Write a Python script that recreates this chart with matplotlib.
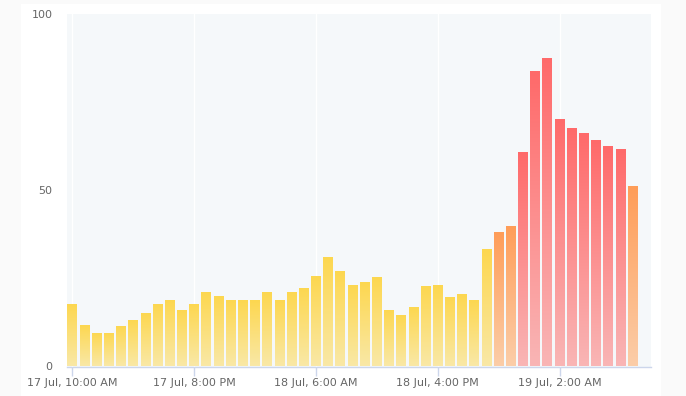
import numpy as np
import matplotlib
matplotlib.use("Agg")
import matplotlib.pyplot as plt
from matplotlib.patches import Rectangle
from matplotlib.colors import to_rgb

# hours since 17 Jul 10:00 AM
values = [17.6, 11.9, 9.4, 9.4, 11.4, 13.1, 15.1, 17.6, 19.0, 15.9,
          17.6, 21.0, 19.9, 19.0, 19.0, 19.0, 21.0, 19.0, 21.0, 22.4,
          25.6, 31.0, 27.0, 23.0, 24.1, 25.3, 15.9, 14.5, 17.0, 22.7,
          23.0, 19.6, 20.5, 19.0, 33.2, 38.1, 39.8, 60.8, 83.8, 87.5,
          70.2, 67.6, 66.2, 64.2, 62.5, 61.6, 51.1]
hours = list(range(len(values)))
tick_hours = [0, 10, 20, 30, 40]
tick_labels = ["17 Jul, 10:00 AM", "17 Jul, 8:00 PM", "18 Jul, 6:00 AM",
               "18 Jul, 4:00 PM", "19 Jul, 2:00 AM"]
y_ticks = [0, 50, 100]

palettes = {
    "yellow": ("#FDD74F", "#F9E8A6"),
    "orange": ("#FF9D58", "#FBCDA8"),
    "red": ("#FF6A6A", "#F9B5B5"),
}

def pal(v):
    if v < 35:
        return palettes["yellow"]
    if v < 55:
        return palettes["orange"]
    return palettes["red"]

W, H = 686, 396
fig = plt.figure(figsize=(W / 100, H / 100), dpi=100)
fig.patch.set_facecolor("#fafafa")
fig.patches.append(Rectangle((21 / W, 0), (661 - 21) / W, (H - 4) / H,
                             transform=fig.transFigure, facecolor="white",
                             edgecolor="none", zorder=-10))

left, right, top, bottom = 67, 651, 14, 366.5
ax = fig.add_axes([left / W, 1 - bottom / H, (right - left) / W, (bottom - top) / H])
ax.set_facecolor("#f5f8fa")

width = 0.82
bars = ax.bar(hours, values, width=width, color="none", edgecolor="none", zorder=2)
for b, v in zip(bars, values):
    c_top, c_bot = pal(v)
    t = np.array(to_rgb(c_top))
    bt = np.array(to_rgb(c_bot))
    n = 64
    f = np.linspace(0, 1, n)[:, None]
    grad = (t * (1 - f) + bt * f)[:, None, :]
    x0 = b.get_x()
    im = ax.imshow(grad, extent=[x0, x0 + b.get_width(), 0, b.get_height()],
                   origin="upper", aspect="auto", zorder=2, interpolation="bilinear")
    im.set_clip_path(b)

ax.set_xlim(-0.45, 47.5)
ax.set_ylim(0, 100)

ax.set_xticks(tick_hours)
ax.set_xticklabels(tick_labels)
ax.set_yticks(y_ticks)
ax.set_yticklabels([str(v) for v in y_ticks])

for s in ["top", "right", "left"]:
    ax.spines[s].set_visible(False)
ax.spines["bottom"].set_color("#ccd6eb")
ax.spines["bottom"].set_linewidth(1)

ax.tick_params(axis="x", colors="#ccd6eb", length=6.5, width=1, pad=2,
               labelcolor="#666666", labelsize=8)
ax.tick_params(axis="y", length=0, pad=10.5, labelcolor="#666666", labelsize=8)

ax.grid(axis="x", color="white", linewidth=1, zorder=1)
ax.grid(axis="y", visible=False)
ax.set_axisbelow(True)

fig.savefig("out.png", dpi=100, facecolor=fig.get_facecolor())
